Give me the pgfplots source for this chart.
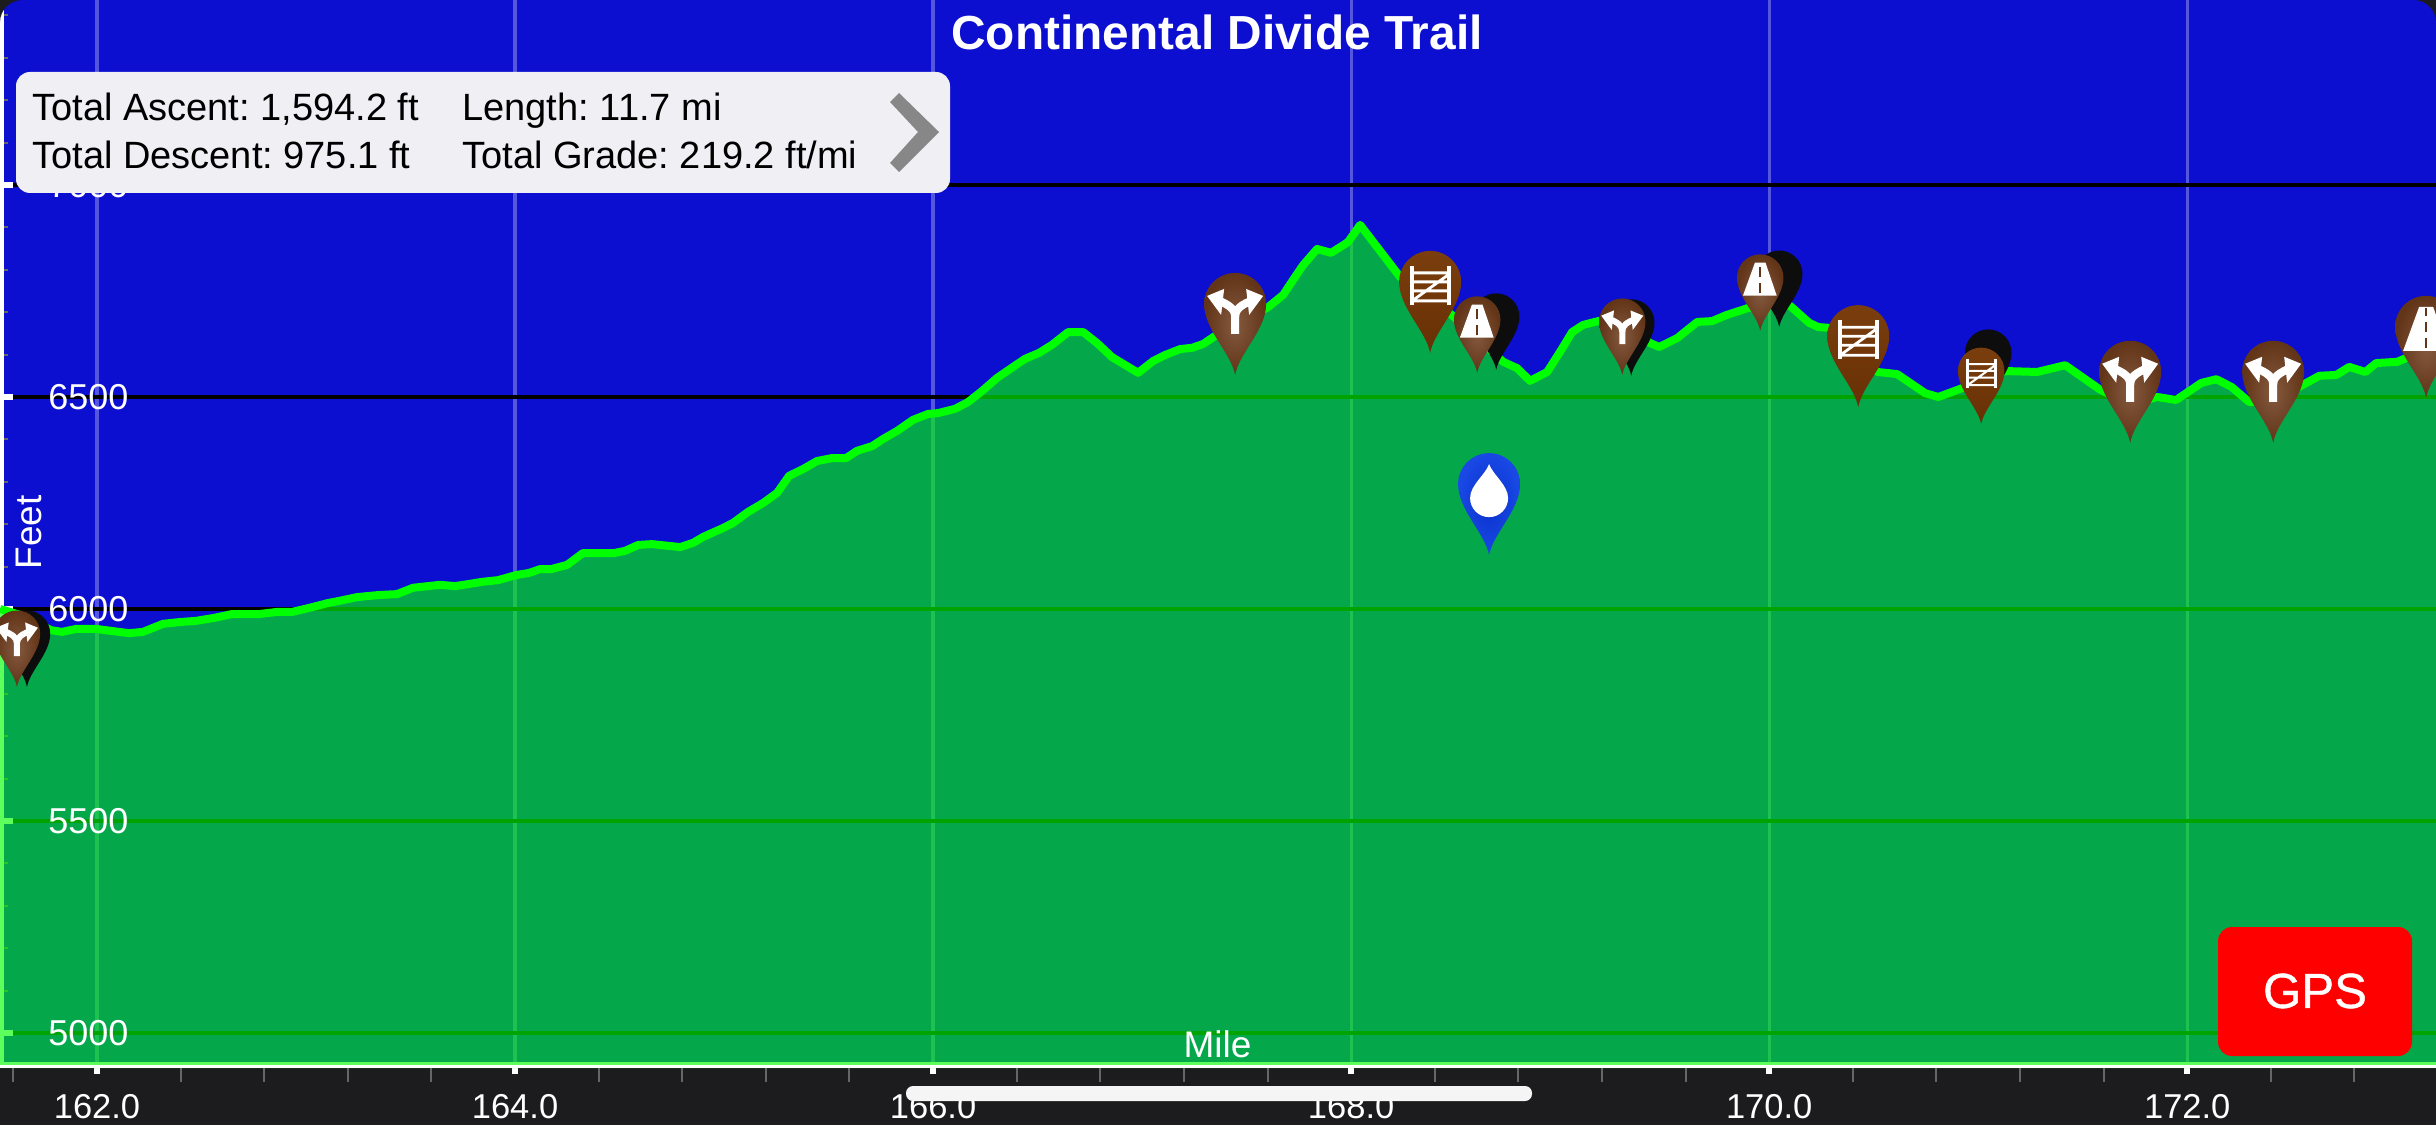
\documentclass[border=0pt]{standalone}
\usepackage{pgfplots}
\usepackage{pgfplotstable}
\usepackage{fontspec}
\pgfplotsset{compat=1.18}
\setmainfont{Liberation Sans}
\newfontface\gpsfont[FakeBold=0.8]{Liberation Sans}
\definecolor{dark}{RGB}{28,28,30}
\definecolor{sky}{RGB}{12,14,208}
\definecolor{panel}{RGB}{239,239,244}
\definecolor{brownA}{RGB}{132,90,62}
\definecolor{brownB}{RGB}{98,52,24}
\definecolor{gateA}{RGB}{122,62,14}
\definecolor{gateB}{RGB}{104,48,4}
\definecolor{waterA}{RGB}{10,50,205}
\definecolor{waterB}{RGB}{25,72,228}
\pgfplotstableread{
x y
161.536 6000
161.632 5986
161.78 5950
161.833 5946
161.90 5953
161.995 5953
162.153 5943
162.22 5946
162.316 5965
162.392 5969
162.474 5972
162.56 5979
162.646 5988
162.775 5988
162.861 5993
162.933 5993
163.01 6002
163.105 6014
163.158 6019
163.244 6028
163.349 6033
163.435 6035
163.512 6050
163.641 6057
163.713 6054
163.78 6059
163.842 6064
163.919 6068
164.005 6080
164.067 6085
164.12 6094
164.172 6094
164.249 6104
164.325 6132
164.474 6132
164.526 6137
164.589 6151
164.655 6153
164.79 6146
164.852 6156
164.90 6170
164.995 6191
165.043 6203
165.115 6229
165.187 6250
165.254 6274
165.311 6314
165.378 6330
165.445 6349
165.517 6356
165.584 6356
165.636 6373
165.708 6384
165.761 6401
165.828 6420
165.904 6446
165.976 6460
166.024 6462
166.105 6472
166.167 6488
166.234 6514
166.306 6545
166.383 6571
166.44 6590
166.507 6604
166.569 6623
166.646 6653
166.718 6653
166.785 6627
166.856 6594
166.981 6557
167.053 6585
167.11 6599
167.182 6613
167.239 6616
167.292 6625
167.349 6644
167.469 6677
167.603 6712
167.675 6741
167.722 6776
167.77 6811
167.837 6849
167.904 6840
167.962 6858
167.986 6866
168.043 6906
168.105 6866
168.172 6823
168.234 6783
168.378 6729
168.483 6693
168.727 6583
168.794 6568
168.856 6538
168.938 6559
169.005 6611
169.057 6653
169.11 6670
169.182 6679
169.311 6670
169.431 6627
169.474 6618
169.56 6639
169.656 6677
169.727 6679
169.794 6693
169.90 6710
170.005 6719
170.10 6715
170.191 6675
170.234 6665
170.287 6663
170.411 6611
170.517 6559
170.612 6554
170.746 6509
170.809 6500
170.924 6521
171.033 6557
171.144 6561
171.282 6559
171.416 6575
171.584 6517
171.727 6483
171.856 6500
171.947 6493
172.067 6533
172.139 6542
172.211 6524
172.297 6488
172.421 6493
172.569 6533
172.632 6550
172.713 6552
172.775 6571
172.852 6559
172.904 6580
173.005 6583
173.048 6592
173.21 6606
}\profile
\newcommand\pinpath{(0,0) .. controls (-4,22) and (-31,45) .. (-31,71) arc[start angle=180,end angle=0,radius=31] .. controls (31,45) and (4,22) .. (0,0) -- cycle}
\newcommand\brownpin{\shade[draw=none,inner color=brownA,outer color=brownB,shading=radial] \pinpath;}
\newcommand\gatepin{\shade[draw=none,top color=gateA,bottom color=gateB] \pinpath;}
\newcommand\forkicon{%
  \draw[white,line width=4pt*\pinscale] (0,41) -- (0,58) .. controls (0,66) and (-6,70) .. (-18,75);
  \draw[white,line width=4pt*\pinscale] (0,58) .. controls (0,66) and (6,70) .. (18,75);
  \fill[white,draw=none] (-28,79) -- (-11,86) -- (-14,60) -- cycle;
  \fill[white,draw=none] (28,79) -- (11,86) -- (14,60) -- cycle;}
\newcommand\gateicon{%
  \fill[white,draw=none] (-20,48) rectangle (-16,87);
  \fill[white,draw=none] (17,48) rectangle (21,87);
  \draw[white,line width=1.4pt*\pinscale] (-18,80) -- (18,80) (-18,71) -- (18,71) (-18,62) -- (18,62) (-18,52) -- (18,52) (-18,52) -- (18,78);}
\newcommand\roadicon{%
  \fill[white,draw=none] (-23,47) -- (22,47) -- (7,91) -- (-7,91) -- cycle;
  \draw[brownB,line width=1pt*\pinscale,dash pattern=on 5pt off 3pt] (0,50) -- (0,90);}
\def\pinscale{1}
\pgfdeclareplotmark{forkB}{\begin{scope}[x=.5pt,y=.5pt]\def\pinscale{1}\brownpin\forkicon\end{scope}}
\pgfdeclareplotmark{forkS}{\begin{scope}[x=.375pt,y=.375pt]\def\pinscale{.75}\brownpin\forkicon\end{scope}}
\pgfdeclareplotmark{gateB}{\begin{scope}[x=.5pt,y=.5pt]\def\pinscale{1}\gatepin\gateicon\end{scope}}
\pgfdeclareplotmark{gateS}{\begin{scope}[x=.375pt,y=.375pt]\def\pinscale{.75}\gatepin\gateicon\end{scope}}
\pgfdeclareplotmark{roadB}{\begin{scope}[x=.5pt,y=.5pt]\def\pinscale{1}\brownpin\roadicon\end{scope}}
\pgfdeclareplotmark{roadS}{\begin{scope}[x=.375pt,y=.375pt]\def\pinscale{.75}\brownpin\roadicon\end{scope}}
\pgfdeclareplotmark{blackS}{\begin{scope}[x=.375pt,y=.375pt]\fill[black!95!white,draw=none] \pinpath;\end{scope}}
\pgfdeclareplotmark{waterB}{\begin{scope}[x=.5pt,y=.5pt]\shade[draw=none,inner color=waterA,outer color=waterB,shading=radial] \pinpath;
  \fill[white,draw=none] (0,91) .. controls (4,80) and (19,70) .. (19,57) arc[start angle=0,end angle=-180,radius=19] .. controls (-19,70) and (-4,80) .. (0,91) -- cycle;\end{scope}}
\pgfplotsset{
  layers/chartorder/.define layer set={axis background,axis grid,axis ticks,axis lines,pre main,main,axis tick labels,axis descriptions,axis foreground}{},
  set layers=chartorder,
  chartaxis/.style={
    at={(0pt,28.5pt)},anchor=south west,scale only axis,
    width=1218pt,height=534pt,
    xmin=161.536,xmax=173.19,ymin=4917.4,ymax=7436.3,
    axis line style={draw=none},
  },
}
\begin{document}
\frenchspacing
\begin{tikzpicture}
\fill[dark] (0,0) rectangle (1218pt,562.5pt);
% x ticks and labels below the plot
\begin{axis}[chartaxis,
  ytick=\empty,tick align=outside,xtick pos=bottom,
  xtick={162,164,166,168,170,172},
  xticklabels={162.0,164.0,166.0,168.0,170.0,172.0},
  minor xtick={161.6,162.4,162.8,163.2,163.6,164.4,164.8,165.2,165.6,166.4,166.8,167.2,167.6,168.4,168.8,169.2,169.6,170.4,170.8,171.2,171.6,172.4,172.8},
  major tick length=3pt,minor tick length=7pt,
  major x tick style={white,line width=3pt},
  minor x tick style={black!60!white,line width=1pt},
  xticklabel style={white,anchor=base,inner sep=0pt,yshift=-22pt,font=\fontsize{17.25pt}{20pt}\selectfont},
]
\addplot[draw=none,forget plot] coordinates {(162,5000) (172,7000)};
\end{axis}
\begin{axis}[chartaxis,
  axis background/.style={fill=sky},
  tick align=inside,
  clip=true,
  xtick={162,164,166,168,170,172},xticklabels={},
  x tick style={draw=none},
  ytick={5000,5500,6000,6500,7000},
  yticklabels={},
  minor ytick={5100,5200,5300,5400,5600,5700,5800,5900,6100,6200,6300,6400,6600,6700,6800,6900,7100,7200,7300,7400},
  ytick pos=left,
  major tick length=6.5pt,minor tick length=4pt,
  major y tick style={white,line width=3pt},
  minor y tick style={black!60!white,line width=1pt},
  xmajorgrids,ymajorgrids,
  major x grid style={white,opacity=.3,line width=1.6pt},
  major y grid style={black,line width=2.4pt},
  xlabel={Mile},
  xlabel style={white,at={(axis description cs:0.4998,0.0094)},anchor=base,inner sep=0pt,font=\fontsize{18.5pt}{20pt}\selectfont},
  ylabel={Feet},
  ylabel style={white,at={(axis description cs:0.01704,0.5014)},anchor=base,rotate=0,inner sep=0pt,font=\fontsize{18.5pt}{20pt}\selectfont},
  title={\textbf{Continental Divide Trail}},
  title style={white,at={(axis description cs:0.4996,0.9532)},anchor=base,yshift=-6pt,inner sep=0pt,font=\fontsize{23.9pt}{26pt}\selectfont},
]
% white frame lines under the translucent area
\addplot[white,line width=1.75pt,forget plot] coordinates {(161.5444,4917.4) (161.5444,7436.3)};
\addplot[white,line width=3pt,forget plot] coordinates {(161.536,4924.5) (173.19,4924.5)};
% elevation
\addplot[draw=none,fill={rgb,255:red,0;green,255;blue,0},fill opacity=.64] table[x=x,y=y] {\profile} \closedcycle;
\addplot[color={rgb,255:red,0;green,255;blue,0},line width=4pt,line join=round] table[x=x,y=y] {\profile};
\addplot[white,line width=1.5pt,forget plot] coordinates {(161.536,4921) (173.19,4921)};
% waypoints
\addplot[only marks,mark=blackS] coordinates {(161.665,5816) (168.694,6564) (169.34,6550) (170.048,6665) (171.048,6479)};
\addplot[only marks,mark=forkS] coordinates {(161.617,5816) (169.297,6552)};
\addplot[only marks,mark=forkB] coordinates {(167.445,6552) (171.727,6392) (172.411,6392)};
\addplot[only marks,mark=gateB] coordinates {(168.378,6604) (170.426,6476)};
\addplot[only marks,mark=gateS] coordinates {(171.014,6436)};
\addplot[only marks,mark=roadS] coordinates {(168.603,6557) (169.957,6656)};
\addplot[only marks,mark=roadB] coordinates {(173.143,6498)};
\addplot[only marks,mark=waterB] coordinates {(168.66,6127)};
\end{axis}
% y tick labels above the translucent area
\begin{axis}[chartaxis,
  xtick=\empty,
  ytick={5000,5500,6000,6500,7000},
  yticklabels={5000,5500,6000,6500,7000},
  ytick pos=left,
  major tick length=0pt,
  y tick style={draw=none},
  yticklabel style={white,anchor=west,inner sep=0pt,xshift=24pt,font=\fontsize{18pt}{20pt}\selectfont},
]
\addplot[draw=none,forget plot] coordinates {(162,5000) (172,7000)};
\end{axis}
\begin{scope}[x=.5pt,y=-.5pt,yshift=562.5pt]
  \fill[dark] (0,0) -- (22,0) .. controls (10,0) and (0,10) .. (0,22) -- cycle;
  \fill[dark] (2436,0) -- (2414,0) .. controls (2426,0) and (2436,10) .. (2436,22) -- cycle;
  \fill[panel,rounded corners=7pt] (16,72) rectangle (950,193);
  \node[anchor=base west,inner sep=0pt,font=\fontsize{19pt}{20pt}\selectfont] at (32,121) {Total Ascent: 1,594.2 ft};
  \node[anchor=base west,inner sep=0pt,font=\fontsize{19pt}{20pt}\selectfont] at (32,169) {Total Descent: 975.1 ft};
  \node[anchor=base west,inner sep=0pt,font=\fontsize{19pt}{20pt}\selectfont] at (462,121) {Length: 11.7 mi};
  \node[anchor=base west,inner sep=0pt,font=\fontsize{19pt}{20pt}\selectfont] at (462,169) {Total Grade: 219.2 ft/mi};
  \fill[black!47!white] (899,93) -- (939,132) -- (899,172) -- (890,163) -- (918,132) -- (890,102) -- cycle;
  \fill[red,rounded corners=7pt] (2218,927) rectangle (2412,1056);
  \node[white,anchor=center,inner sep=0pt,font=\gpsfont\fontsize{24.6pt}{26pt}\selectfont] at (2315,991) {GPS};
  \fill[black!4!white,rounded corners=3.5pt] (906,1086) rectangle (1532,1101);
\end{scope}
\pgfresetboundingbox
\path[use as bounding box] (0,0) rectangle (1218pt,562.5pt);
\end{tikzpicture}
\end{document}
